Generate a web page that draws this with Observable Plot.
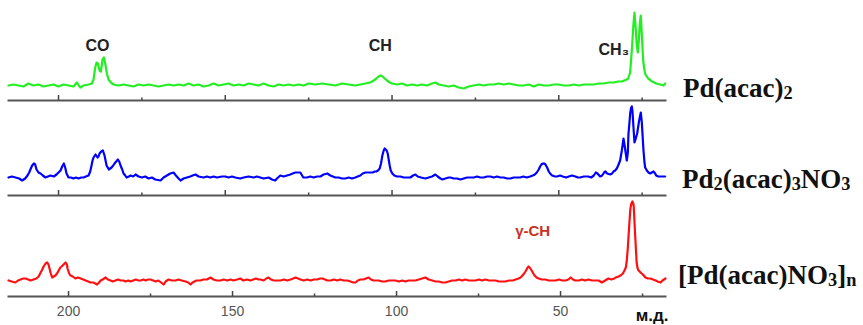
<!DOCTYPE html>
<html><head><meta charset="utf-8">
<script src="https://cdn.jsdelivr.net/npm/d3@7"></script>
<script src="https://cdn.jsdelivr.net/npm/@observablehq/plot@0.6"></script>
<style>
body{margin:0;background:#fff;}
#wrap{position:relative;width:863px;height:325px;overflow:hidden;}
#wrap svg{display:block;}
.cmp{position:absolute;font-family:"Liberation Serif","Times New Roman",serif;font-weight:bold;font-size:27px;line-height:27px;color:#111;white-space:nowrap;}
.cmp sub{font-size:0.68em;vertical-align:-0.12em;line-height:0;}
</style></head><body><div id="wrap"></div>
<script>
// ---- data (ppm, relative intensity) ----
const greenPpm = [215.0,213.5,212.0,210.5,209.0,207.5,206.0,204.5,203.0,201.5,200.0,198.5,197.0,195.5,194.5,193.5,192.5,191.0,190.0,189.5,189.0,188.6,188.2,187.7,187.3,186.8,186.4,186.0,185.5,185.0,184.3,183.5,182.0,180.5,179.0,177.5,176.0,174.5,173.0,171.5,170.0,168.5,167.0,165.5,164.0,162.5,161.0,159.5,158.0,156.5,155.0,153.5,152.0,150.5,149.0,147.5,146.0,144.5,143.0,141.5,140.0,138.5,137.0,135.5,134.0,132.5,131.0,129.5,128.0,126.5,125.0,123.0,121.0,119.0,117.0,115.0,113.0,111.0,109.5,108.0,106.5,105.5,104.7,104.0,103.5,102.8,102.2,101.5,100.7,99.9,98.5,97.0,95.5,94.0,92.5,91.0,89.5,88.0,87.0,86.0,84.5,83.0,81.5,80.0,78.5,77.0,75.5,74.0,72.5,71.0,69.5,68.0,66.5,65.0,63.5,62.0,60.5,59.0,57.5,56.0,54.5,53.0,51.5,50.0,48.5,47.0,45.5,44.0,42.5,41.0,39.5,38.0,36.5,35.0,33.5,32.2,31.0,30.4,29.6,29.2,28.6,28.0,27.6,27.3,27.0,26.6,26.3,26.0,25.7,25.4,25.0,24.7,24.3,24.0,23.2,22.0,20.8,19.6,18.6,18.1];
const greenInt = [0,1,0,-1,2,0,1,-1,0,1,-1,1,0,-1,3,-2,0,1,2,6,18,23,22,15,14,26,28,22,12,6,3,1,0,1,0,-1,1,0,1,0,-1,0,1,0,1,0,2,0,1,-1,0,2,0,1,2,0,1,0,2,1,0,2,0,-1,1,0,1,0,1,0,2,1,2,1,0,2,1,0,1,2,3,5,7,9,10,9,7,5,3,2,1,2,0,1,0,1,0,2,3,1,0,-1,0,-2,-3,-1,0,1,0,1,1,2,1,2,1,0,0,1,-1,1,0,0,1,1,0,0,1,0,1,1,1,2,2,3,3,4,4,5,6,7,13,40,62,73,60,40,33,45,62,70,45,25,15,11,7,4,2,1,0,2];

const bluePpm = [215.0,214.0,212.9,211.8,210.9,210.0,209.3,208.8,208.3,207.9,207.4,207.0,206.6,206.0,205.4,204.7,203.9,203.2,202.4,201.4,200.6,200.0,199.4,198.9,198.4,198.0,197.6,197.0,196.3,195.5,194.8,194.0,193.2,192.5,191.8,191.0,190.5,190.1,189.8,189.5,188.9,188.3,188.0,187.7,187.2,186.7,186.2,185.9,185.6,184.9,184.5,184.1,183.6,183.2,182.7,182.2,181.8,181.4,180.9,180.5,180.0,179.6,178.9,178.4,177.6,176.9,176.0,175.0,174.0,173.0,172.0,171.0,169.4,168.5,167.5,166.5,165.5,164.8,164.0,163.4,162.5,161.5,160.5,159.8,158.9,158.0,156.5,155.5,154.5,153.5,152.5,151.0,150.0,149.0,148.0,147.0,145.5,144.5,143.0,141.5,140.5,139.5,138.5,137.0,136.0,135.0,134.5,133.5,132.5,131.5,130.5,129.8,129.0,128.3,127.5,126.6,125.5,124.5,123.5,122.5,121.5,120.5,119.4,118.5,117.0,116.0,115.0,114.0,113.0,112.0,111.0,110.3,109.5,108.8,108.0,107.2,106.5,105.8,105.2,104.7,104.2,103.7,103.3,102.9,102.5,102.2,101.9,101.6,101.3,101.0,100.7,100.4,99.9,99.3,98.5,97.5,96.5,95.5,94.5,93.7,93.0,92.3,91.3,90.0,89.0,88.0,87.0,86.3,85.5,84.9,84.0,83.0,82.5,81.5,80.5,79.5,78.5,77.5,76.5,75.5,74.5,73.5,72.5,71.5,70.5,69.5,68.5,67.5,66.5,65.5,64.5,63.5,62.5,61.6,60.6,59.6,58.6,57.8,57.2,56.6,56.0,55.6,55.2,54.8,54.4,54.0,53.5,53.0,52.6,52.0,51.1,50.5,49.6,48.8,47.8,47.0,46.0,45.0,44.3,43.6,42.5,41.2,40.3,39.5,38.9,38.4,37.6,37.0,36.4,36.0,35.5,34.6,34.0,33.6,33.1,32.6,32.2,31.6,31.1,30.8,30.6,30.3,30.0,29.6,29.3,29.1,28.8,28.6,28.3,28.1,27.9,27.6,27.3,27.0,26.5,25.9,25.6,25.4,25.1,24.8,24.6,24.3,24.1,23.6,23.1,22.6,22.1,21.6,21.1,20.8,20.2,19.5,18.8,18.1];
const blueInt = [0,1,0,-1,-3,-1,2,5,9,12,14,13,8,5,4,2,0,1,2,1,3,5,7,11,14,10,4,0,0,-1,0,-1,0,0,1,2,6,12,17,20,23,20,21,24,26,27,22,17,12,8,9,10,12,14,16,18,16,12,8,4,2,0,1,2,1,3,1,0,1,-1,0,-2,-3,0,2,4,5,2,-1,-3,-1,0,1,2,3,1,0,1,0,1,0,1,1,0,1,0,-1,0,1,0,1,0,-1,0,-2,-3,-1,2,1,2,3,4,5,5,5,0,0,1,0,1,1,3,4,2,0,0,-1,-1,0,-1,0,1,2,4,5,5,5,5,6,6,7,9,14,22,27,29,28,27,24,18,12,7,4,2,1,1,0,0,0,2,3,1,0,-1,0,1,3,1,-1,-2,-1,0,0,-1,-1,-2,-1,0,0,0,1,0,0,1,1,0,1,0,0,-1,-1,0,0,0,1,0,1,2,3,5,8,11,13,14,14,13,10,6,4,2,1,1,2,1,0,1,2,1,0,0,1,1,0,2,5,4,1,2,5,6,4,3,4,6,7,9,12,17,27,34,39,33,26,17,25,44,55,64,70,71,66,50,35,38,44,57,62,65,55,38,27,15,10,7,5,4,5,6,4,2,1,1,1,1];

const redPpm = [218.3,217.3,216.2,215.4,214.6,213.8,213.1,212.3,211.6,210.7,209.8,209.1,208.5,208.0,207.6,207.0,206.5,206.1,205.8,205.4,205.0,204.5,204.0,203.5,203.0,202.5,202.1,201.5,200.9,200.5,200.3,199.8,199.4,198.7,197.9,197.1,196.3,195.5,194.8,194.0,193.3,192.5,191.8,191.3,190.7,190.2,189.6,188.7,188.0,187.2,186.5,185.7,184.9,184.1,183.3,182.6,181.8,181.1,180.3,179.5,178.7,178.0,177.2,176.5,175.7,175.0,174.2,173.4,172.6,171.8,171.0,170.4,169.5,168.5,167.4,166.5,165.5,164.3,163.5,162.8,162.2,161.0,159.8,158.9,157.8,156.7,155.8,154.8,153.7,152.7,151.6,150.6,149.7,148.6,147.6,146.7,145.6,144.5,143.7,142.9,142.0,141.5,140.5,139.7,139.0,138.3,137.4,136.4,135.4,134.3,133.3,132.3,131.5,130.8,130.0,129.3,128.3,127.2,126.2,125.2,124.2,123.3,122.6,121.8,121.1,120.1,119.1,118.1,117.1,116.1,115.0,114.0,113.2,112.5,111.8,111.0,110.1,109.3,108.5,107.8,107.0,106.4,105.4,104.4,103.4,102.4,101.3,100.3,99.3,98.3,97.3,96.3,95.2,94.2,93.2,92.2,91.2,90.2,89.1,88.1,87.1,86.1,85.1,84.1,83.1,82.0,81.0,80.0,79.0,78.0,76.9,75.9,74.9,73.9,72.9,71.8,70.8,69.8,68.8,67.8,66.8,65.7,64.6,63.7,62.8,62.2,61.6,61.1,60.7,60.2,59.8,59.4,58.8,58.3,57.9,57.3,56.7,55.7,54.6,53.6,52.5,51.5,50.5,49.5,48.5,47.6,46.9,46.2,45.5,44.5,43.5,42.5,41.5,40.4,39.4,38.4,37.4,36.4,35.4,34.5,33.6,33.2,32.3,31.7,31.0,30.5,30.1,29.8,29.5,29.3,29.0,28.7,28.4,28.1,27.9,27.7,27.5,27.3,27.0,26.8,26.5,26.2,25.6,24.9,24.1,23.4,22.6,21.8,21.0,20.4,19.5,18.9,18.0];
const redInt = [0,-1,-2,0,1,2,2,1,0,1,2,4,8,11,14,17,18,16,12,7,3,4,5,7,10,13,14,16,18,16,12,7,5,4,2,3,2,1,0,-1,-2,-2,-3,-4,-2,0,1,3,1,0,-1,0,1,0,0,-1,0,-1,0,1,0,0,1,0,1,1,0,-1,0,-2,-4,-1,1,0,0,1,0,-1,-2,-4,-2,0,0,1,1,3,1,0,0,1,0,1,0,1,2,0,1,0,1,2,1,1,0,2,3,1,0,0,0,1,0,1,2,3,2,1,0,1,0,1,1,2,2,1,0,0,1,0,1,0,0,-1,-2,-2,0,1,1,2,3,1,0,0,0,-1,-1,0,0,0,-1,0,-1,0,0,0,1,2,3,1,0,-1,-1,-2,-2,-1,0,0,1,0,1,0,0,0,1,0,1,0,0,0,-1,-1,-1,0,0,1,2,3,5,7,9,12,14,13,10,7,5,3,2,1,1,0,0,0,1,0,0,1,3,1,0,0,1,0,1,0,0,0,-2,0,2,1,2,3,4,5,7,10,13,20,32,43,58,72,77,79,78,75,62,48,30,18,12,10,8,6,3,2,2,1,0,-1,-2,0,2];

const compoundLabels = ["Pd(acac)<sub>2</sub>", "Pd<sub>2</sub>(acac)<sub>3</sub>NO<sub>3</sub>", "[Pd(acac)NO<sub>3</sub>]<sub>n</sub>"];
const peakLabelsTop = ["CO", "CH", "CH\u2083"];
const peakPpmTop = [188.3, 103.5, 33.5];
const peakIntTop = [40, 40, 36];
const peakLabelsBottom = ["\u03b3-CH"];
const peakPpmBottom = [58.5];
const peakIntBottom = [49];
const majorTicks = [200, 150, 100, 50];
const minorTicks = [175, 125, 75, 25];
const unitLabel = "\u043c.\u0434.";

// ---- drawing ----
const wrap = document.getElementById("wrap");
const W = 863;

function panel({ppm, inten, color, xDomain, yDomain, height, marginBottom, labels, showTickLabels}) {
  const data = ppm.map((p, i) => ({ppm: p, I: inten[i]}));
  const marks = [
    Plot.frame({anchor: "bottom", stroke: "#555", strokeWidth: 2}),
    Plot.axisX(majorTicks, {tickSize: -5, tickFormat: () => "", stroke: "#444", strokeWidth: 1.5, label: null}),
    Plot.axisX(minorTicks, {tickSize: -2.5, tickFormat: () => "", stroke: "#444", strokeWidth: 1.5, label: null}),
    Plot.line(data, {x: "ppm", y: "I", stroke: color, strokeWidth: 2.2, strokeLinejoin: "round"})
  ];
  if (labels) {
    marks.push(Plot.text(labels.data, {x: "ppm", y: "I", text: "label", fontSize: labels.size, fontWeight: "bold", fill: labels.fill, letterSpacing: "0.6px"}));
  }
  if (showTickLabels) {
    marks.push(Plot.axisX(majorTicks, {tickSize: 0, tickPadding: 10, fontSize: 14, fill: "#555", label: null}));
    marks.push(Plot.text([unitLabel], {text: d => d, frameAnchor: "bottom-right", textAnchor: "end", lineAnchor: "middle", dx: 3, dy: 19, fontSize: 17, fontWeight: "bold", fill: "#111"}));
  }
  return Plot.plot({
    width: W, height,
    marginLeft: 8, marginRight: 198, marginTop: 0, marginBottom,
    x: {domain: xDomain, label: null},
    y: {domain: yDomain, axis: null},
    style: {fontFamily: "'Liberation Sans', Arial, sans-serif", background: "#fff", overflow: "visible"},
    marks
  });
}

const topLab = peakLabelsTop.map((l, i) => ({label: l, ppm: peakPpmTop[i], I: peakIntTop[i]}));
const botLab = peakLabelsBottom.map((l, i) => ({label: l, ppm: peakPpmBottom[i], I: peakIntBottom[i]}));

wrap.append(panel({ppm: greenPpm, inten: greenInt, color: "#22ee22", xDomain: [215, 18], yDomain: [-15, 85], height: 101, marginBottom: 1, labels: {data: topLab, size: 16, fill: "#222"}}));
wrap.append(panel({ppm: bluePpm, inten: blueInt, color: "#0000ff", xDomain: [215, 18], yDomain: [-18, 76], height: 95, marginBottom: 1}));
wrap.append(panel({ppm: redPpm, inten: redInt, color: "#ff1010", xDomain: [218.3, 18], yDomain: [-16, 84], height: 129, marginBottom: 29, labels: {data: botLab, size: 15, fill: "#c8321e"}, showTickLabels: true}));

const pos = [[683, 75], [682, 166], [678, 262]];
compoundLabels.forEach((html, i) => {
  const d = document.createElement("div");
  d.className = "cmp";
  d.innerHTML = html;
  d.style.left = pos[i][0] + "px";
  d.style.top = pos[i][1] + "px";
  wrap.append(d);
});
</script>
</body></html>
